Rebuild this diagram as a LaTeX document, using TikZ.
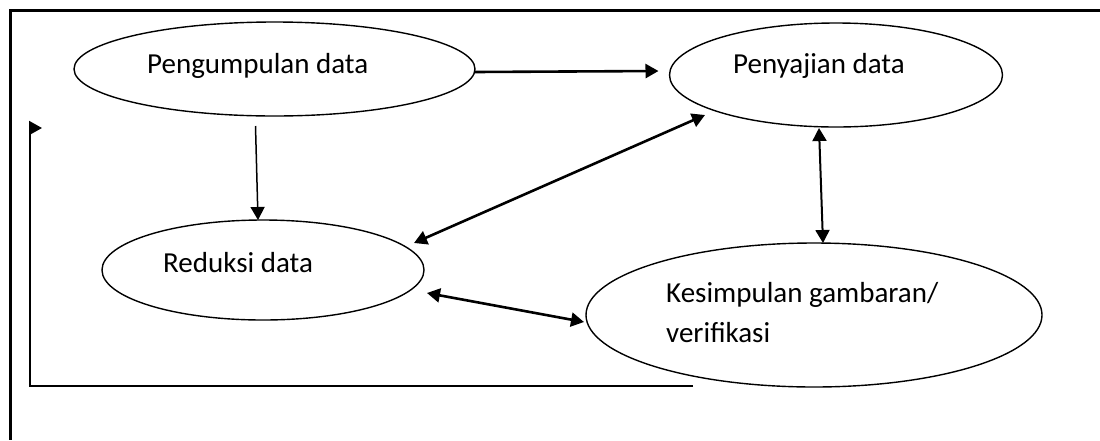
\documentclass[tikz,border=0pt]{standalone}
\usepackage{fontspec}
\setmainfont{Carlito}
\usetikzlibrary{shapes.geometric,arrows.meta}

\begin{document}
\begin{tikzpicture}[x=1pt, y=-1pt,
        proses/.style={draw,ellipse,line width=1.4pt,inner sep=0pt,outer sep=0pt},
        teks/.style={anchor=base west,inner sep=0pt,font=\fontsize{29}{34}\selectfont},
        panah/.style={-{Triangle[length=13pt,width=14pt]},line width=2.6pt},
        dua/.style={{Triangle[length=13pt,width=14pt]}-{Triangle[length=13pt,width=14pt]},line width=2.6pt}]
        \useasboundingbox (0,0) rectangle (1100,440);
        \draw[line width=3pt] (1100,10) -- (10,10) -- (10,440);

        \node[proses, minimum width=401pt, minimum height=94pt] (pengumpulan) at (274.5,69) {};
        \node[proses, minimum width=333pt, minimum height=104pt] (penyajian) at (836,75) {};
        \node[proses, minimum width=322pt, minimum height=100pt] (reduksi) at (263,270) {};
        \node[proses, minimum width=456pt, minimum height=144pt] (kesimpulan) at (814,315) {};

        \node[teks] (t1) at (147,73) {Pengumpulan data};
        \node[teks] (t2) at (733,73) {Penyajian data};
        \node[teks] (t3) at (163,272) {Reduksi data};
        \node[teks] (t4) at (666,302) {Kesimpulan gambaran/};
        \node[teks] (t5) at (666,342) {verifikasi};

        \draw[panah] ([shift={(0,3)}]pengumpulan.east) -- ([shift={(-11,-4)}]penyajian.west);
        \draw[panah, line width=1.5pt] ([shift={(-19,10)}]pengumpulan.south) -- ([shift={(-5,0)}]reduksi.north);
        \draw[dua] ([shift={(-10,-27)}]reduksi.east) -- ([shift={(-131,-12)}]penyajian.south);
        \draw[dua, line width=2pt] ([shift={(-17,1)}]penyajian.south) -- ([shift={(9,0)}]kesimpulan.north);
        \draw[dua] ([shift={(3,23)}]reduksi.east) -- ([shift={(-2,7)}]kesimpulan.west);

        \coordinate (umpanawal) at (693,386);
        \coordinate (umpanakhir) at (42,128);
        \draw[panah, line width=2pt] (umpanawal) -- (30,386) -- (30,128) -- (umpanakhir);
      \end{tikzpicture}
\end{document}
